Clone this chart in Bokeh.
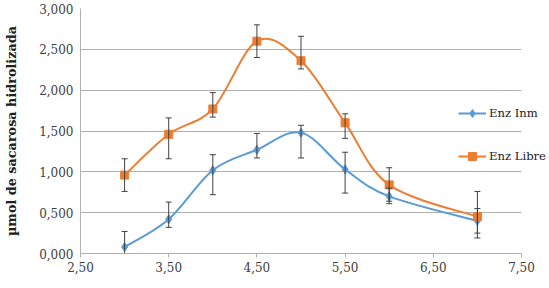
from bokeh.plotting import figure
from bokeh.models import (ColumnDataSource, Whisker, TeeHead, FixedTicker, Legend,
                          LegendItem, Label, BoxAnnotation)
from bokeh.embed import file_html
from bokeh.resources import INLINE

# ---- data ----
ph = [3.0, 3.5, 4.0, 4.5, 5.0, 5.5, 6.0, 7.0]
enz_inm = [0.08, 0.42, 1.02, 1.27, 1.48, 1.03, 0.70, 0.40]
enz_inm_upper = [0.27, 0.63, 1.21, 1.47, 1.57, 1.24, 0.80, 0.55]
enz_inm_lower = [0.00, 0.32, 0.72, 1.17, 1.17, 0.74, 0.61, 0.25]
enz_libre = [0.96, 1.46, 1.77, 2.60, 2.36, 1.60, 0.84, 0.45]
enz_libre_upper = [1.16, 1.66, 1.97, 2.80, 2.66, 1.71, 1.05, 0.76]
enz_libre_lower = [0.76, 1.16, 1.67, 2.40, 2.26, 1.41, 0.64, 0.19]

x_ticks = [2.5, 3.5, 4.5, 5.5, 6.5, 7.5]
x_tick_labels = ["2,50", "3,50", "4,50", "5,50", "6,50", "7,50"]
y_ticks = [0.0, 0.5, 1.0, 1.5, 2.0, 2.5, 3.0]
y_tick_labels = ["0,000", "0,500", "1,000", "1,500", "2,000", "2,500", "3,000"]

series_names = ["Enz Inm", "Enz Libre"]
x_title = "pH"
y_title = "µmol de sacarosa hidrolizada"

BLUE = "#5b9bd5"
ORANGE = "#ed7d31"
FONT = "DejaVu Serif"
X_MIN, X_MAX = 2.5, 7.5
# frame extends to the right edge of the canvas so the legend text is not clipped
X_VIEW_MAX = X_MIN + (549 - 80) / ((521 - 80) / (X_MAX - X_MIN))

p = figure(width=549, height=288, x_range=(X_MIN, X_VIEW_MAX), y_range=(0, 3.0),
           output_backend="svg", toolbar_location=None,
           min_border_left=80, min_border_right=0, min_border_top=8,
           min_border_bottom=35, background_fill_color="white",
           border_fill_color="white", outline_line_color=None)

p.xgrid.grid_line_color = None
p.ygrid.grid_line_color = "#b0b0b0"
p.ygrid.grid_line_width = 1

# hide grid lines beyond the last x tick
p.add_layout(BoxAnnotation(left=X_MAX, fill_color="white", fill_alpha=1,
                           line_alpha=0, level="underlay"))

p.xaxis.ticker = FixedTicker(ticks=x_ticks)
p.xaxis.major_label_overrides = {t: l for t, l in zip(x_ticks, x_tick_labels)}
p.xaxis.bounds = (X_MIN, X_MAX)
p.yaxis.ticker = FixedTicker(ticks=y_ticks)
p.yaxis.major_label_overrides = {t: l for t, l in zip(y_ticks, y_tick_labels)}

for ax in (p.xaxis, p.yaxis):
    ax.axis_line_color = "#b0b0b0"
    ax.major_label_text_font = FONT
    ax.major_label_text_font_size = "12px"
    ax.major_label_text_color = "#404040"
    ax.minor_tick_line_color = None
    ax.major_tick_line_color = "#b0b0b0"

p.xaxis.major_tick_in = 0
p.xaxis.major_tick_out = 4
p.xaxis.major_label_standoff = 4
p.yaxis.major_tick_in = 0
p.yaxis.major_tick_out = 0
p.yaxis.major_label_standoff = 7

p.yaxis.axis_label = y_title
p.yaxis.axis_label_text_font = FONT
p.yaxis.axis_label_text_font_size = "12.8px"
p.yaxis.axis_label_text_font_style = "bold"
p.yaxis.axis_label_text_color = "#202020"
p.yaxis.axis_label_standoff = 17


def bezier_segments(xs, ys):
    n = len(xs)
    seg = dict(x0=[], y0=[], x1=[], y1=[], cx0=[], cy0=[], cx1=[], cy1=[])
    for i in range(n - 1):
        im1 = max(i - 1, 0)
        ip2 = min(i + 2, n - 1)
        seg["x0"].append(xs[i]); seg["y0"].append(ys[i])
        seg["x1"].append(xs[i + 1]); seg["y1"].append(ys[i + 1])
        seg["cx0"].append(xs[i] + (xs[i + 1] - xs[im1]) / 6.0)
        seg["cy0"].append(ys[i] + (ys[i + 1] - ys[im1]) / 6.0)
        seg["cx1"].append(xs[i + 1] - (xs[ip2] - xs[i]) / 6.0)
        seg["cy1"].append(ys[i + 1] - (ys[ip2] - ys[i]) / 6.0)
    return ColumnDataSource(seg)


items = []
for name, vals, up, lo, color, marker, msize in [
    (series_names[0], enz_inm, enz_inm_upper, enz_inm_lower, BLUE, "diamond", 9),
    (series_names[1], enz_libre, enz_libre_upper, enz_libre_lower, ORANGE, "square", 8),
]:
    p.bezier(x0="x0", y0="y0", x1="x1", y1="y1", cx0="cx0", cy0="cy0",
             cx1="cx1", cy1="cy1", source=bezier_segments(ph, vals),
             line_color=color, line_width=2)
    src = ColumnDataSource(dict(x=ph, y=vals, upper=up, lower=lo))
    w = Whisker(base="x", upper="upper", lower="lower", source=src,
                line_color="#404040", line_width=1, level="glyph",
                upper_head=TeeHead(size=6, line_color="#404040", line_width=1),
                lower_head=TeeHead(size=6, line_color="#404040", line_width=1))
    p.add_layout(w)
    sc = p.scatter(x="x", y="y", source=src, marker=marker, size=msize,
                   fill_color=color, line_color=color)
    leg_line = p.line(x=[float("nan")], y=[float("nan")], line_color=color,
                      line_width=2)
    items.append(LegendItem(label=name, renderers=[leg_line, sc]))

legend = Legend(items=items, location=(378, 87), orientation="vertical",
                glyph_width=28, glyph_height=20, spacing=23, padding=0,
                margin=0, label_standoff=3, border_line_alpha=0,
                background_fill_alpha=0, label_text_font=FONT,
                label_text_font_size="11.6px", label_text_color="#202020")
p.add_layout(legend, "center")

p.add_layout(Label(x=4.94, y=-0.27, text=x_title, text_font=FONT,
                   text_font_size="11px", text_font_style="bold",
                   text_align="center", text_baseline="middle",
                   text_color="#202020"))

open("out.html", "w").write(file_html(p, INLINE))
